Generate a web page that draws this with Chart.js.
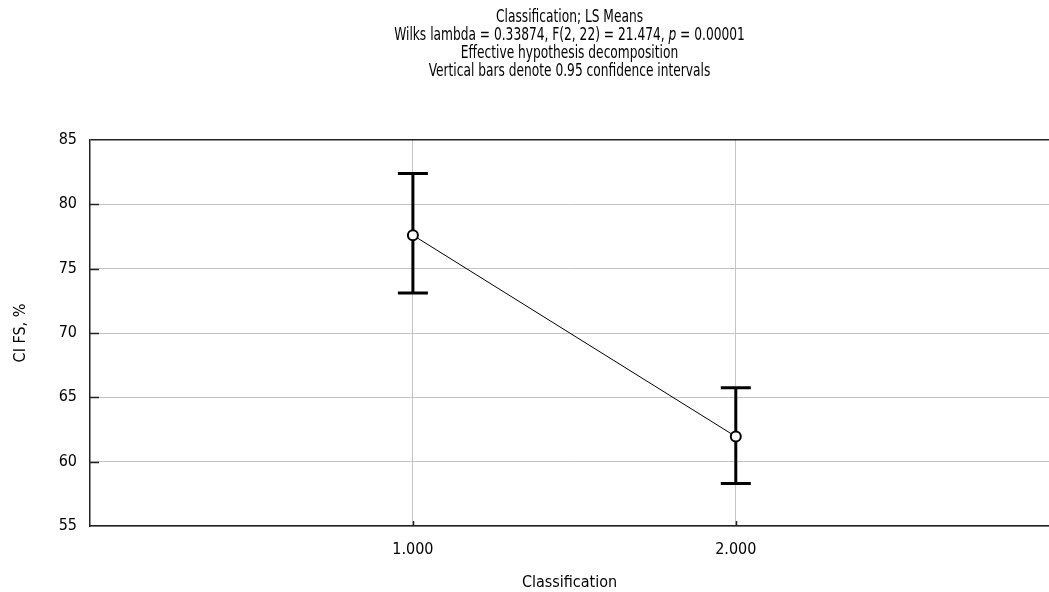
<!DOCTYPE html>
<html>
<head>
<meta charset="utf-8">
<script src="https://cdn.jsdelivr.net/npm/chart.js@4/dist/chart.umd.min.js"></script>
<style>
  html, body { margin: 0; padding: 0; background: #fff; overflow: hidden; }
  canvas { display: block; }
</style>
</head>
<body>
<canvas id="LsMeansChart" width="1049" height="592"></canvas>
<script>
//
// Data
var categories = [1, 2];
var x_tick_labels = ['1.000', '2.000'];
var means = [77.6, 61.95];
var ci_low = [73.1, 58.3];
var ci_high = [82.4, 65.75];
var y_ticks = [55, 60, 65, 70, 75, 80, 85];

var title_lines = [
  [{ t: 'Classification; LS Means' }],
  [{ t: 'Wilks lambda = 0.33874, F(2, 22) = 21.474, ' }, { t: 'p', italic: true }, { t: ' = 0.00001' }],
  [{ t: 'Effective hypothesis decomposition' }],
  [{ t: 'Vertical bars denote 0.95 confidence intervals' }]
];

var FONT = '"DejaVu Sans Condensed", "Liberation Sans Narrow", sans-serif';
var GRID = '#c4c4c4';
var DARK = '#222';

Chart.defaults.font.family = FONT;
Chart.defaults.font.size = 16;
Chart.defaults.color = '#000';

//
// Error bars, drawn under the line and the points
var errorBars = {
  id: 'errorBars',
  beforeDatasetsDraw: function(chart) {
    var ctx = chart.ctx;
    var xs = chart.scales.x, ys = chart.scales.y;
    ctx.save();
    ctx.strokeStyle = '#000';
    ctx.lineWidth = 3;
    for (var i = 0; i < categories.length; i++) {
      var px = xs.getPixelForValue(categories[i]);
      var top = ys.getPixelForValue(ci_high[i]);
      var bot = ys.getPixelForValue(ci_low[i]);
      ctx.beginPath();
      ctx.moveTo(px, top); ctx.lineTo(px, bot);
      ctx.moveTo(px - 15, top); ctx.lineTo(px + 15, top);
      ctx.moveTo(px - 15, bot); ctx.lineTo(px + 15, bot);
      ctx.stroke();
    }
    ctx.restore();
  }
};

//
// Inward tick marks and the multi-line header
var frameAndHeader = {
  id: 'frameAndHeader',
  afterDraw: function(chart) {
    var ctx = chart.ctx;
    var area = chart.chartArea;
    var xs = chart.scales.x, ys = chart.scales.y;
    ctx.save();
    ctx.strokeStyle = DARK;
    ctx.lineWidth = 1.5;
    ctx.beginPath();
    y_ticks.forEach(function(v) {
      if (v === 55 || v === 85) return;
      var py = Math.round(ys.getPixelForValue(v)) + 0.5;
      ctx.moveTo(area.left, py); ctx.lineTo(area.left + 9, py);
    });
    categories.forEach(function(v) {
      var px = Math.round(xs.getPixelForValue(v)) + 0.5;
      ctx.moveTo(px, area.bottom); ctx.lineTo(px, area.bottom - 5);
    });
    ctx.stroke();
    ctx.restore();

    // header, condensed a bit to look like the original narrow face
    var cx = (area.left + area.right) / 2;
    var baselines = [22, 40, 58, 76];
    title_lines.forEach(function(line, li) {
      var total = 0;
      line.forEach(function(seg) {
        ctx.font = (seg.italic ? 'italic ' : '') + '18px ' + FONT;
        seg.w = ctx.measureText(seg.t).width;
        total += seg.w;
      });
      ctx.save();
      ctx.translate(cx, baselines[li]);
      ctx.scale(0.755, 1);
      ctx.fillStyle = '#000';
      ctx.textBaseline = 'alphabetic';
      ctx.textAlign = 'left';
      var x = -total / 2;
      line.forEach(function(seg) {
        ctx.font = (seg.italic ? 'italic ' : '') + '18px ' + FONT;
        ctx.fillText(seg.t, x, 0);
        x += seg.w;
      });
      ctx.restore();
    });
  }
};

var chart_ctx = document.getElementById('LsMeansChart').getContext('2d');

new Chart(chart_ctx, {
  type: 'scatter',
  data: {
    datasets: [{
      data: categories.map(function(c, i) { return { x: c, y: means[i] }; }),
      showLine: true,
      borderColor: '#000',
      borderWidth: 1,
      pointRadius: 5,
      pointBorderWidth: 2,
      pointBorderColor: '#000',
      pointBackgroundColor: '#fff'
    }]
  },
  options: {
    responsive: false,
    animation: false,
    layout: { autoPadding: false, padding: { top: 140, right: 0, bottom: 0, left: 0 } },
    plugins: {
      legend: { display: false },
      tooltip: { enabled: false }
    },
    scales: {
      x: {
        type: 'linear',
        min: 0,
        max: 2.97,
        afterBuildTicks: function(scale) {
          scale.ticks = categories.map(function(v) { return { value: v }; });
        },
        afterFit: function(scale) { scale.height = 66; },
        ticks: {
          autoSkip: false,
          maxRotation: 0,
          padding: 14,
          callback: function(v, i) { return x_tick_labels[i]; }
        },
        grid: { color: GRID, drawTicks: false },
        border: { color: DARK, width: 1.5 },
        title: { display: true, text: 'Classification', padding: { top: 0, bottom: 0 } }
      },
      y: {
        min: 55,
        max: 85,
        afterBuildTicks: function(scale) {
          scale.ticks = y_ticks.map(function(v) { return { value: v }; });
        },
        afterFit: function(scale) { scale.width = 90; },
        ticks: { padding: 13 },
        grid: {
          drawTicks: false,
          color: function(c) { return c.tick && c.tick.value === 85 ? DARK : GRID; },
          lineWidth: function(c) { return c.tick && c.tick.value === 85 ? 1.5 : 1; }
        },
        border: { color: DARK, width: 1.5 },
        title: { display: true, text: 'CI FS, %', padding: { top: 11, bottom: 0 } }
      }
    }
  },
  plugins: [errorBars, frameAndHeader]
});
</script>
</body>
</html>
